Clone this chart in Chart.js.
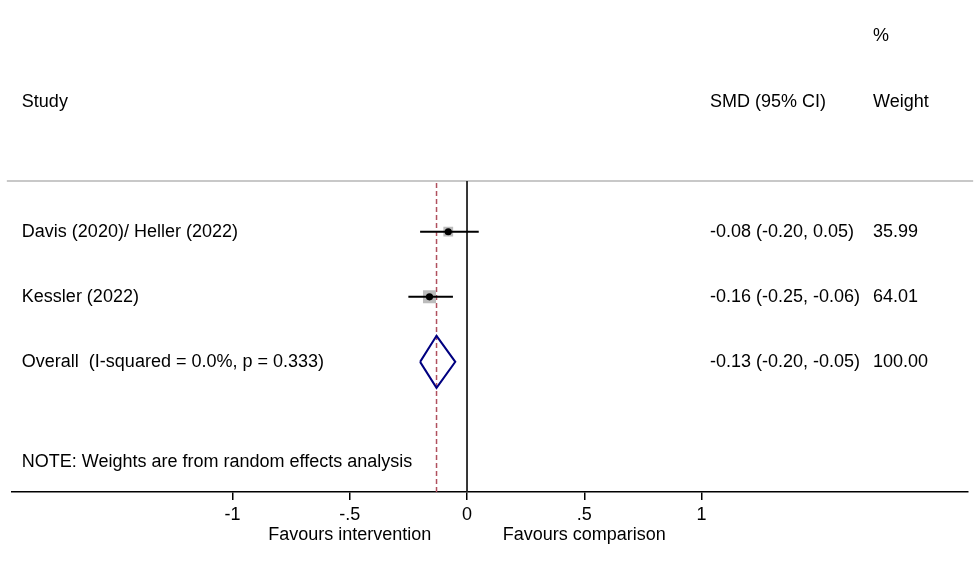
<!DOCTYPE html>
<html>
<head>
<meta charset="utf-8">
<script src="https://cdn.jsdelivr.net/npm/chart.js@4.4.0/dist/chart.umd.min.js"></script>
<style>
    html, body { margin: 0; padding: 0; background: #fff; }
    #wrap { width: 980px; height: 562px; }
</style>
</head>
<body>
<div id="wrap"><canvas id="forest" width="980" height="562"></canvas></div>
<script>
// Study level data
const studies = ['Davis (2020)/ Heller (2022)', 'Kessler (2022)'];
const smd = [-0.08, -0.16];
const lower = [-0.20, -0.25];
const upper = [0.05, -0.06];
const weights = [35.99, 64.01];
const ciLabels = ['-0.08 (-0.20, 0.05)', '-0.16 (-0.25, -0.06)'];
const weightLabels = ['35.99', '64.01'];
const studyRows = [4, 3];

// Pooled estimate
const overallLabel = 'Overall  (I-squared = 0.0%, p = 0.333)';
const overallEst = -0.13;
const overallLower = -0.20;
const overallUpper = -0.05;
const overallCiLabel = '-0.13 (-0.20, -0.05)';
const overallWeightLabel = '100.00';
const overallRow = 2;

// Axis
const xTicks = [-1, -0.5, 0, 0.5, 1];
const xTickLabels = ['-1', '-.5', '0', '.5', '1'];
const noteText = 'NOTE: Weights are from random effects analysis';

const FONT_FAMILY = '"Liberation Sans", Arial, sans-serif';
const FONT = '18px ' + FONT_FAMILY;

// column anchors in x-axis units
const colStudy = -1.898;
const colCi = 1.036;
const colWeight = 1.731;
const headerRow = 6;
const pctRow = 7;
const dividerRow = 4.78;
const noteRow = 0.46;
const favoursRow = -0.66;

const textPlugin = {
    id: 'forestText',
    afterDatasetsDraw(chart) {
        const { ctx, scales: { x, y } } = chart;
        const put = (text, xv, yv, align = 'left') => {
            ctx.textAlign = align;
            ctx.fillText(text, x.getPixelForValue(xv), y.getPixelForValue(yv));
        };
        ctx.save();
        ctx.fillStyle = '#000';
        ctx.font = FONT;
        ctx.textBaseline = 'middle';

        put('%', colWeight, pctRow);
        put('Study', colStudy, headerRow);
        put('SMD (95% CI)', colCi, headerRow);
        put('Weight', colWeight, headerRow);

        studies.forEach((name, i) => {
            put(name, colStudy, studyRows[i]);
            put(ciLabels[i], colCi, studyRows[i]);
            put(weightLabels[i], colWeight, studyRows[i]);
        });

        put(overallLabel, colStudy, overallRow);
        put(overallCiLabel, colCi, overallRow);
        put(overallWeightLabel, colWeight, overallRow);

        put(noteText, colStudy, noteRow);

        put('Favours intervention', -0.5, favoursRow, 'center');
        put('Favours comparison', 0.5, favoursRow, 'center');
        ctx.restore();
    }
};

const pointDataset = {
    label: 'estimate',
    data: smd.map((v, i) => ({ x: v, y: studyRows[i] })),
    pointStyle: 'circle',
    pointRadius: 3.6,
    backgroundColor: '#000',
    borderColor: '#000',
    borderWidth: 0
};

const ciDatasets = studies.map((name, i) => ({
    label: name,
    data: [{ x: lower[i], y: studyRows[i] }, { x: upper[i], y: studyRows[i] }],
    showLine: true,
    borderColor: '#000',
    borderWidth: 2,
    pointRadius: 0
}));

const boxDataset = {
    label: 'weight box',
    data: smd.map((v, i) => ({ x: v, y: studyRows[i] })),
    pointStyle: 'rect',
    pointRadius: weights.map(w => 1.15 * Math.sqrt(w)),
    backgroundColor: '#bcbcbc',
    borderWidth: 0
};

const diamondDataset = {
    label: 'overall',
    data: [
        { x: overallLower, y: overallRow },
        { x: overallEst, y: overallRow + 0.4 },
        { x: overallUpper, y: overallRow },
        { x: overallEst, y: overallRow - 0.4 },
        { x: overallLower, y: overallRow }
    ],
    showLine: true,
    borderColor: '#000080',
    borderWidth: 2,
    pointRadius: 0
};

const pooledLine = {
    label: 'pooled line',
    data: [{ x: overallEst, y: 0 }, { x: overallEst, y: dividerRow }],
    showLine: true,
    borderColor: '#b0505e',
    borderWidth: 1.5,
    borderDash: [5, 3],
    pointRadius: 0
};

const nullLine = {
    label: 'null line',
    data: [{ x: 0, y: 0 }, { x: 0, y: dividerRow }],
    showLine: true,
    borderColor: '#222',
    borderWidth: 1.8,
    pointRadius: 0
};

const dividerLine = {
    label: 'divider',
    data: [{ x: -1.962, y: dividerRow }, { x: 2.158, y: dividerRow }],
    showLine: true,
    borderColor: '#c8c8c8',
    borderWidth: 2,
    pointRadius: 0,
    clip: false
};

new Chart(document.getElementById('forest'), {
    type: 'scatter',
    data: {
        datasets: [pointDataset, ...ciDatasets, boxDataset, diamondDataset, pooledLine, nullLine, dividerLine]
    },
    options: {
        responsive: false,
        animation: false,
        events: [],
        layout: { padding: { left: 12, right: 12, top: 0, bottom: 0 } },
        plugins: {
            legend: { display: false },
            tooltip: { enabled: false }
        },
        scales: {
            x: {
                type: 'linear',
                min: -1.94,
                max: 2.136,
                afterBuildTicks(scale) {
                    scale.ticks = xTicks.map(v => ({ value: v }));
                },
                afterFit(scale) {
                    scale.height = 70;
                },
                border: { display: true, color: '#000', width: 1.5 },
                grid: {
                    drawOnChartArea: false,
                    drawTicks: true,
                    tickLength: 8,
                    color: '#000',
                    lineWidth: 1.5
                },
                ticks: {
                    color: '#000',
                    font: { family: FONT_FAMILY, size: 18 },
                    padding: 4,
                    maxRotation: 0,
                    autoSkip: false,
                    callback(value) {
                        const idx = xTicks.indexOf(value);
                        return idx >= 0 ? xTickLabels[idx] : '';
                    }
                }
            },
            y: {
                type: 'linear',
                display: false,
                min: 0,
                max: 7.42
            }
        }
    },
    plugins: [textPlugin]
});
</script>
</body>
</html>
